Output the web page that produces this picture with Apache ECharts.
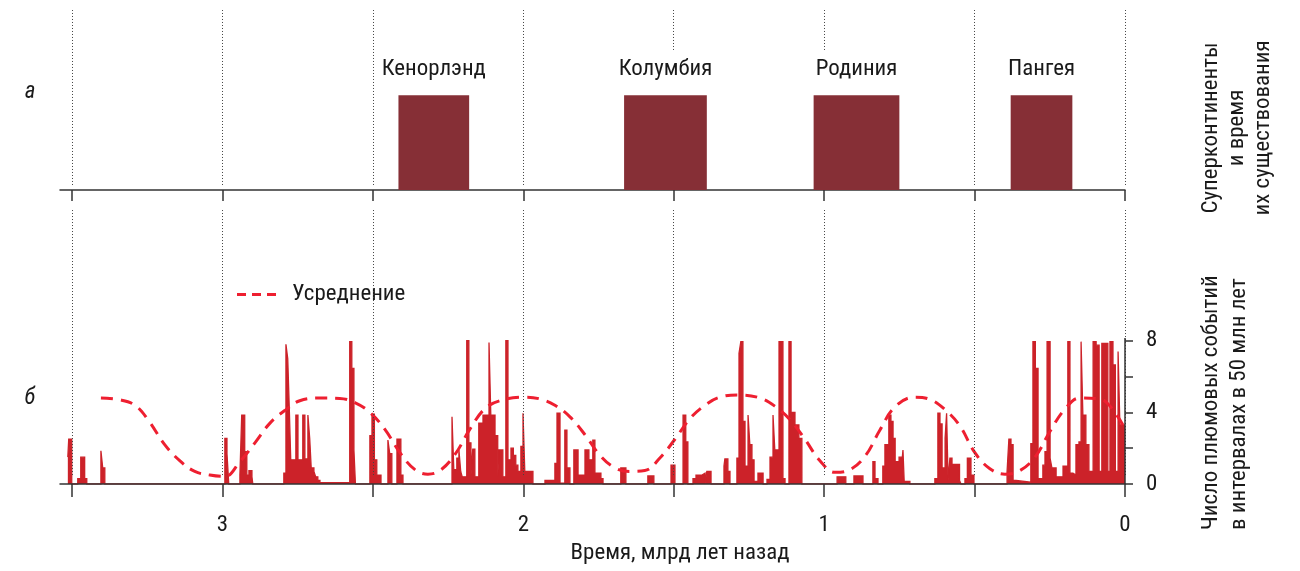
<!DOCTYPE html>
<html><head><meta charset="utf-8">
<script src="https://cdn.jsdelivr.net/npm/echarts@6/dist/echarts.min.js"></script>
<style>html,body{margin:0;padding:0;background:#fff}#c{width:1300px;height:571px}</style>
</head><body><div id="c"></div>
<script>
// ---------- DATA ----------
const superNames   = ['Кенорлэнд', 'Колумбия', 'Родиния', 'Пангея'];
const superStartMa = [2415, 1665, 1035, 380];
const superEndMa   = [2180, 1390, 750, 175];

const gridTicksMa  = [3500, 3000, 2500, 2000, 1500, 1000, 500, 0];
const axisLabelMa  = [3000, 2000, 1000, 0];
const yTickValues  = [0, 2, 4, 6, 8];
const yLabelValues = [0, 4, 8];

// plume events histogram: each entry = age (Ma) where the count changes to the given value
const plumeAgeMa = [3514,3511,3501, 3481,3471,3458,3451, 3404,3398,3391,
  2992,2985,2979, 2942,2936,2926,2919,2912,2902,2899,
  2796,2789,2783,2778,2773,2756,2749,2733,2726,2716,2710,2705,2696,2690,2683,2676,2577,2570,2563,2558,
  2510,2503,2495,2487,2473, 2450,2444,2437, 2420,2407,2400,
  2237,2231,2221,2214,2208,2203,2188,2181,2174,2168,2161,2148,2134,2114,2108,2094,
  2085,2081,2068,2058,2051,2041,2033,2025,2018,2008,2001,1995,1968,
  1928,1895,1888,1878,1862,1855,1845,
  1832,1818,1795,1782,1769,1762,1742,1735,
  1676,1659, 1586,1566, 1509,1496, 1469,1460,1453, 1436,1426,1406,1396, 1390,1376,
  1333,1330,1320,1313,
  1290,1283,1277,1270,1263,1253,1247,1240,1233,1220,1203,
  1190,1180,1170,1164,1150,1137,1130,
  1117,1110,1097,1084,1074,
  957,928, 901,871,
  838,831,821,
  805,798,785,778,771,764,751,741,738,734,715,
  632,622,615,608,598,593,588,582,575,550,545,
  532,524,512,502,
  392,386,379,372,362,
  313,306,298,289,273,266,259,249,243,229,206,190,183,173,163,153,146,140,130,120,106,96,86,77,57,50,40,32,23,17,0];
const plumeCount = [1.5,2.5,0, 0.3,1.5,0.3,0, 1.85,0.9,0,
  2.55,1.7,0, 0.5,3.85,1.8,0.5,0.75,0.4,0,
  0.6,7.8,7.0,4.3,1.35,3.85,1.35,3.85,1.4,3.85,2.55,0.9,0.7,0.4,0.2,0.08,7.95,6.45,1.9,0,
  2.7,3.9,1.35,0.5,0, 2.45,1.7,0, 2.5,0.5,0,
  3.75,0.8,1.45,1.9,0.7,0.4,8.0,2.3,0.5,1.95,0.4,3.4,3.85,7.9,3.85,2.7,
  0.4,1.9,0.4,8.0,1.35,2.0,1.6,1.05,0.7,2.1,3.95,0.7,0,
  0.2,1.15,3.95,0.05,3.0,0.9,0,
  1.9,0.5,1.9,1.35,2.45,0.6,0.3,0,
  0.9,0, 0.45,0, 1.05,0, 3.85,2.35,0, 0.3,0.5,0.6,0, 0.7,0,
  1.0,1.4,0.7,0,
  1.45,7.3,7.95,3.5,1.0,3.85,2.2,1.35,0.15,0.6,0,
  0.25,1.5,3.85,1.9,7.95,0.3,0,
  7.95,4.0,3.3,2.55,0,
  0.4,0, 0.45,0,
  1.25,0.3,0,
  1.0,2.2,3.85,3.5,2.55,1.25,1.5,1.35,1.9,0.15,0,
  0.3,3.95,3.35,0.9,2.55,3.95,0.2,1.45,1.1,0.2,0,
  0.3,1.45,0.5,0,
  0.7,2.5,2.2,0.2,0.1,
  2.25,7.95,6.45,0.3,1.05,1.8,7.95,1.45,0.9,0.4,1.0,7.95,0.6,0.5,2.2,2.35,7.95,3.85,2.2,0.7,7.95,7.75,0.7,7.85,0.7,7.95,6.65,0.7,7.4,3.3,3.3];

// averaged curve
const avgAgeMa = [3404,3341,3291,3248,3192,3142,3092,3042,2992,2942,2892,2842,2793,2743,2676,2610,2560,2510,2460,2410,2360,2317,2277,2227,2178,2128,2078,1995,1945,1895,1845,1795,1745,1695,1646,1596,1546,1496,1446,1396,1346,1280,1213,1164,1114,1064,1014,964,914,864,815,765,698,648,598,549,499,449,399,349,299,249,199,150,83,50,7];
const avgCount = [4.8,4.7,4.4,3.6,2.2,1.3,0.7,0.5,0.42,1.25,2.3,3.4,4.1,4.65,4.8,4.78,4.55,4.0,3.05,1.75,0.8,0.55,0.75,1.65,3.05,4.2,4.65,4.85,4.75,4.4,3.75,2.75,1.6,0.9,0.7,0.75,1.45,2.5,3.65,4.4,4.85,4.97,4.8,4.35,3.6,2.5,1.3,0.65,0.8,1.55,3.0,4.3,4.85,4.72,4.15,3.25,1.75,0.85,0.55,0.75,1.5,2.95,4.2,4.8,4.75,4.35,3.3];

// ---------- FONT ----------
function fontAvailable(name){
  const ctx=document.createElement('canvas').getContext('2d');
  const s='Время, млрд лет назад 0123456789';
  for (const fb of ['monospace','serif']) {
    ctx.font='40px '+fb; const a=ctx.measureText(s).width;
    ctx.font='40px "'+name+'", '+fb; const b=ctx.measureText(s).width;
    if (Math.abs(a-b)>0.5) return true;
  }
  return false;
}
let FONT='Roboto';
for (const n of ['Roboto Condensed','Liberation Sans Narrow','Arial Narrow','DejaVu Sans Condensed','Roboto']) { if (fontAvailable(n)) { FONT=n; break; } }
const FF='"'+FONT+'", sans-serif';
const mctx=document.createElement('canvas').getContext('2d');
mctx.font='100px '+FF;
const FS=Math.max(14, Math.min(26, 100*219/mctx.measureText('Время, млрд лет назад').width));

const BAR='#862f36', HIST='#cc2229', AVG='#ee1f30', INK='#1a1a1a', GRID='#444';
const Y_TOP_MAX=1.9, Y_BOT_MAX=15.3;

const topLines = gridTicksMa.map(t => [{coord:[t, (t===1500||t===1000)?1.478:0.053]},{coord:[t, Y_TOP_MAX]}]);
const botLines = gridTicksMa.map(t => [{coord:[t, 0.5]},{coord:[t, Y_BOT_MAX]}]);
botLines.push([{coord:[0,0], lineStyle:{type:'solid', color:'#333', width:1.5}},{coord:[0,8.15]}]);

const chart = echarts.init(document.getElementById('c'));
chart.setOption({
  animation:false,
  backgroundColor:'#fff',
  textStyle:{fontFamily:FF},
  grid:[{left:60,right:175,top:10,height:180},{left:60,right:175,top:210,height:274}],
  xAxis:[
    {gridIndex:0,type:'value',min:0,max:3540,inverse:true,
     axisLine:{lineStyle:{color:'#333',width:1.5}},
     axisTick:{customValues:gridTicksMa,length:11,lineStyle:{color:'#333',width:1.5}},
     axisLabel:{show:false},splitLine:{show:false}},
    {gridIndex:1,type:'value',min:0,max:3540,inverse:true,z:5,
     axisLine:{lineStyle:{color:'#333',width:1.5}},
     axisTick:{customValues:gridTicksMa,length:13,lineStyle:{color:'#333',width:1.5}},
     axisLabel:{customValues:axisLabelMa,formatter:v=>String(v/1000),margin:30,fontSize:FS,fontFamily:FF,color:INK},
     splitLine:{show:false}}
  ],
  yAxis:[
    {gridIndex:0,type:'value',min:0,max:Y_TOP_MAX,show:false},
    {gridIndex:1,type:'value',position:'right',min:0,max:Y_BOT_MAX,
     axisLine:{show:false},
     axisTick:{show:true,customValues:yTickValues,length:8,lineStyle:{color:'#333',width:1.5}},
     axisLabel:{customValues:yLabelValues,margin:21,fontSize:FS,fontFamily:FF,color:INK},
     splitLine:{show:false}}
  ],
  legend:{data:[{name:'Усреднение',icon:'path://M0,0h9v3h-9z M15,0h9v3h-9z M30,0h9v3h-9z'}],
    left:237,top:283,padding:0,itemWidth:39,itemHeight:3,
    textStyle:{fontSize:FS,fontFamily:FF,color:INK,padding:[0,0,0,11]}},
  series:[
    {type:'line',name:'gridTop',xAxisIndex:0,yAxisIndex:0,data:[],silent:true,z:1,
     markLine:{silent:true,symbol:['none','none'],label:{show:false},animation:false,
       lineStyle:{type:[1,2],color:GRID,width:1},data:topLines}},
    {type:'custom',name:'supercontinents',xAxisIndex:0,yAxisIndex:0,z:3,
     data:superNames.map((n,i)=>[superStartMa[i],superEndMa[i]]),
     encode:{x:[0,1]},
     renderItem:(params,api)=>{
       const p0=api.coord([api.value(0),0]);
       const p1=api.coord([api.value(1),1]);
       const x=Math.min(p0[0],p1[0]), w=Math.abs(p1[0]-p0[0]);
       return {type:'group',children:[
         {type:'rect',shape:{x:x,y:p1[1],width:w,height:p0[1]-p1[1]},style:{fill:BAR}},
         {type:'text',style:{text:superNames[params.dataIndex],x:x+w/2,y:p1[1]-26,align:'center',verticalAlign:'middle',fontSize:FS,fontFamily:FF,fill:INK}}
       ]};
     }},
    {type:'line',name:'gridBot',xAxisIndex:1,yAxisIndex:1,data:[],silent:true,z:1,
     markLine:{silent:true,symbol:['none','none'],label:{show:false},animation:false,
       lineStyle:{type:[1,2],color:GRID,width:1},data:botLines}},
    {type:'line',name:'Плюмы',xAxisIndex:1,yAxisIndex:1,step:'end',symbol:'none',z:3,
     data:plumeAgeMa.map((a,i)=>[a,plumeCount[i]]),
     lineStyle:{width:1.3,color:HIST,join:'miter'},areaStyle:{color:HIST,opacity:1}},
    {type:'line',name:'Усреднение',xAxisIndex:1,yAxisIndex:1,smooth:0.4,symbol:'none',z:4,
     data:avgAgeMa.map((a,i)=>[a,avgCount[i]]),
     itemStyle:{color:AVG},
     lineStyle:{width:3,color:AVG,type:[12,8]}}
  ],
  graphic:{elements:[
    {type:'text',x:30,y:92,style:{text:'а',align:'center',verticalAlign:'middle',fontSize:FS,fontStyle:'italic',fontFamily:FF,fill:INK}},
    {type:'text',x:30,y:398,style:{text:'б',align:'center',verticalAlign:'middle',fontSize:FS,fontStyle:'italic',fontFamily:FF,fill:INK}},
    {type:'text',x:680,y:553,style:{text:'Время, млрд лет назад',align:'center',verticalAlign:'middle',fontSize:FS,fontFamily:FF,fill:INK}},
    {type:'text',x:1237,y:128,rotation:Math.PI/2,style:{text:'Суперконтиненты\nи время\nих существования',align:'center',verticalAlign:'middle',lineHeight:26,fontSize:FS,fontFamily:FF,fill:INK}},
    {type:'text',x:1225,y:530,rotation:Math.PI/2,style:{text:'Число плюмовых событий\nв интервалах в 50 млн лет',align:'left',verticalAlign:'middle',lineHeight:28,fontSize:FS,fontFamily:FF,fill:INK}}
  ]}
});
</script></body></html>
